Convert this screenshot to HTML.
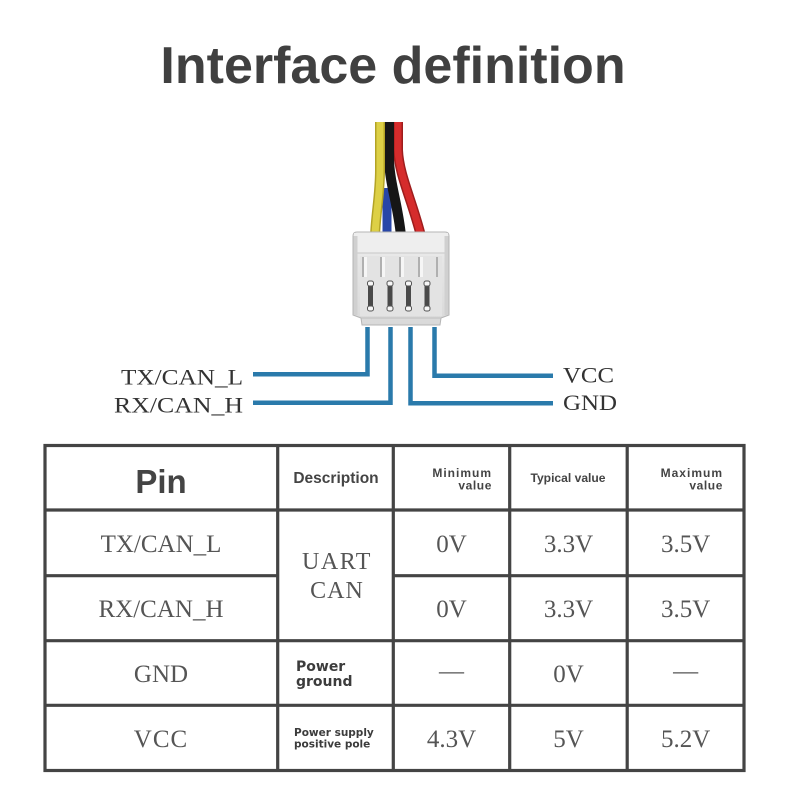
<!DOCTYPE html>
<html>
<head>
<meta charset="utf-8">
<style>
  html, body { margin:0; padding:0; background:#ffffff; }
  body { width:790px; height:797px; overflow:hidden; }
  svg { display:block; }
</style>
</head>
<body>
<svg width="790" height="797" viewBox="0 0 790 797" xmlns="http://www.w3.org/2000/svg">
  <defs>
    <linearGradient id="body" x1="0" y1="0" x2="0" y2="1">
      <stop offset="0" stop-color="#f0f0f0"/>
      <stop offset="0.3" stop-color="#e6e6e6"/>
      <stop offset="1" stop-color="#d9d9d9"/>
    </linearGradient>
    <linearGradient id="side" x1="0" y1="0" x2="1" y2="0">
      <stop offset="0" stop-color="#c9c9c9"/>
      <stop offset="0.12" stop-color="#e4e4e4"/>
      <stop offset="0.88" stop-color="#e4e4e4"/>
      <stop offset="1" stop-color="#c9c9c9"/>
    </linearGradient>
  </defs>

  <!-- Title -->
  <text x="393" y="83" text-anchor="middle" font-family="'Liberation Sans', Arial, sans-serif" font-weight="bold" font-size="52" fill="#404040">Interface definition</text>

  <!-- Wires -->
  <g fill="none" stroke-linecap="butt">
    <path d="M387,188 C387,205 387,220 387,236" stroke="#2846a8" stroke-width="9"/>
    <path d="M398,122 L398,150 C399,175 412,200 421,236" stroke="#9e1d1d" stroke-width="10"/>
    <path d="M398,122 L398,150 C399,175 412,200 421,236" stroke="#d52c2c" stroke-width="7"/>
    <path d="M389,122 L389,160 C390,185 398,205 401,236" stroke="#161616" stroke-width="10"/>
    <path d="M380,122 L380,170 C380,195 376,212 375,236" stroke="#b3a326" stroke-width="10"/>
    <path d="M380,122 L380,170 C380,195 376,212 375,236" stroke="#ddd046" stroke-width="7"/>
  </g>

  <!-- Connector body -->
  <path d="M357,232 L445,232 Q449,232 449,236 L449,315 L441,318 L440,325 L362,325 L361,318 L353,315 L353,236 Q353,232 357,232 Z" fill="url(#body)" stroke="#b5b5b5" stroke-width="1"/>
  <rect x="354" y="233" width="94" height="20" fill="#eeeeee"/>
  <line x1="354" y1="253" x2="448" y2="253" stroke="#cfcfcf" stroke-width="1.2"/>
  <rect x="353.5" y="236" width="4" height="79" fill="#d0d0d0"/>
  <rect x="444.5" y="236" width="4" height="79" fill="#d0d0d0"/>
  <rect x="360" y="256" width="82" height="60" fill="#e3e3e3"/>
  <line x1="361" y1="318" x2="441" y2="318" stroke="#bdbdbd" stroke-width="1"/>

  <!-- ribs -->
  <g stroke="#9a9a9a" stroke-width="1.4">
    <line x1="363" y1="257" x2="363" y2="277"/>
    <line x1="381" y1="257" x2="381" y2="277"/>
    <line x1="400" y1="257" x2="400" y2="277"/>
    <line x1="419" y1="257" x2="419" y2="277"/>
    <line x1="437" y1="257" x2="437" y2="277"/>
  </g>
  <g fill="#f6f6f6">
    <rect x="364" y="257" width="3" height="20"/>
    <rect x="382" y="257" width="3" height="20"/>
    <rect x="401" y="257" width="3" height="20"/>
    <rect x="420" y="257" width="3" height="20"/>
  </g>

  <!-- pins -->
  <g>
    <rect x="368" y="285" width="5" height="22" fill="#4a4a4a"/>
    <rect x="387.5" y="285" width="5" height="22" fill="#4a4a4a"/>
    <rect x="406" y="285" width="5" height="22" fill="#4a4a4a"/>
    <rect x="424.5" y="285" width="5" height="22" fill="#4a4a4a"/>
    <g fill="#f7f7f7" stroke="#555" stroke-width="1">
      <rect x="367.5" y="281" width="6" height="5" rx="2"/>
      <rect x="387" y="281" width="6" height="5" rx="2"/>
      <rect x="405.5" y="281" width="6" height="5" rx="2"/>
      <rect x="424" y="281" width="6" height="5" rx="2"/>
      <rect x="367.5" y="306" width="6" height="5" rx="2"/>
      <rect x="387" y="306" width="6" height="5" rx="2"/>
      <rect x="405.5" y="306" width="6" height="5" rx="2"/>
      <rect x="424" y="306" width="6" height="5" rx="2"/>
    </g>
  </g>

  <!-- Blue connector lines -->
  <g fill="none" stroke="#2a7aab" stroke-width="4.5" stroke-linecap="butt">
    <path d="M253,374.2 L367.5,374.2 L367.5,327"/>
    <path d="M253,402.7 L390.5,402.7 L390.5,327"/>
    <path d="M553,403.2 L410.5,403.2 L410.5,327"/>
    <path d="M553,375.7 L434.5,375.7 L434.5,327"/>
  </g>

  <!-- Connector labels -->
  <g font-family="'Liberation Serif', 'Times New Roman', serif" font-size="22" fill="#333333">
    <text x="121" y="384.5" textLength="122" lengthAdjust="spacingAndGlyphs">TX/CAN_L</text>
    <text x="114" y="412.5" textLength="129" lengthAdjust="spacingAndGlyphs">RX/CAN_H</text>
    <text x="563" y="382.5" textLength="51" lengthAdjust="spacingAndGlyphs">VCC</text>
    <text x="563" y="410" textLength="54" lengthAdjust="spacingAndGlyphs">GND</text>
  </g>

  <!-- Table grid -->
  <g stroke="#444444" stroke-width="3.2" fill="none">
    <rect x="45" y="445.5" width="699" height="325"/>
    <line x1="277.7" y1="445.5" x2="277.7" y2="770.5"/>
    <line x1="393.3" y1="445.5" x2="393.3" y2="770.5"/>
    <line x1="509.7" y1="445.5" x2="509.7" y2="770.5"/>
    <line x1="627.2" y1="445.5" x2="627.2" y2="770.5"/>
    <line x1="45" y1="510" x2="744" y2="510"/>
    <line x1="45" y1="575.7" x2="277.7" y2="575.7"/>
    <line x1="393.3" y1="575.7" x2="744" y2="575.7"/>
    <line x1="45" y1="640.7" x2="744" y2="640.7"/>
    <line x1="45" y1="705.3" x2="744" y2="705.3"/>
  </g>

  <!-- Header row -->
  <g font-family="'Liberation Sans', Arial, sans-serif" font-weight="bold" fill="#444444">
    <text x="161" y="493" text-anchor="middle" font-size="33">Pin</text>
    <text x="336" y="483" text-anchor="middle" font-size="15.5">Description</text>
    <text x="492" y="477" text-anchor="end" font-size="12" letter-spacing="1">Minimum</text>
    <text x="492" y="489.5" text-anchor="end" font-size="12" letter-spacing="0.6">value</text>
    <text x="568" y="482" text-anchor="middle" font-size="12.1">Typical value</text>
    <text x="723" y="477" text-anchor="end" font-size="12" letter-spacing="1">Maximum</text>
    <text x="723" y="489.5" text-anchor="end" font-size="12" letter-spacing="0.6">value</text>
  </g>

  <!-- Body values -->
  <g font-family="'Liberation Serif', 'Times New Roman', serif" font-size="25" fill="#555555" text-anchor="middle">
    <text x="161" y="552">TX/CAN_L</text>
    <text x="161" y="617">RX/CAN_H</text>
    <text x="161" y="682">GND</text>
    <text x="161" y="747" letter-spacing="1">VCC</text>

    <text x="337" y="569" font-size="24" letter-spacing="1.5">UART</text>
    <text x="337" y="598" font-size="24" letter-spacing="1">CAN</text>

    <text x="451.5" y="552">0V</text>
    <text x="568.5" y="552">3.3V</text>
    <text x="685.6" y="552">3.5V</text>

    <text x="451.5" y="617">0V</text>
    <text x="568.5" y="617">3.3V</text>
    <text x="685.6" y="617">3.5V</text>

    <text x="451.5" y="679">—</text>
    <text x="568.5" y="682">0V</text>
    <text x="685.6" y="679">—</text>

    <text x="451.5" y="747">4.3V</text>
    <text x="568.5" y="747">5V</text>
    <text x="685.6" y="747">5.2V</text>
  </g>

  <!-- Description small labels -->
  <g font-family="'DejaVu Sans', 'Liberation Sans', sans-serif" font-weight="bold" fill="#3c3c3c">
    <text x="296" y="671" font-size="14">Power</text>
    <text x="296" y="686" font-size="14">ground</text>
    <text x="294" y="736" font-size="10.5">Power supply</text>
    <text x="294" y="747.5" font-size="10.5">positive pole</text>
  </g>
</svg>
</body>
</html>
